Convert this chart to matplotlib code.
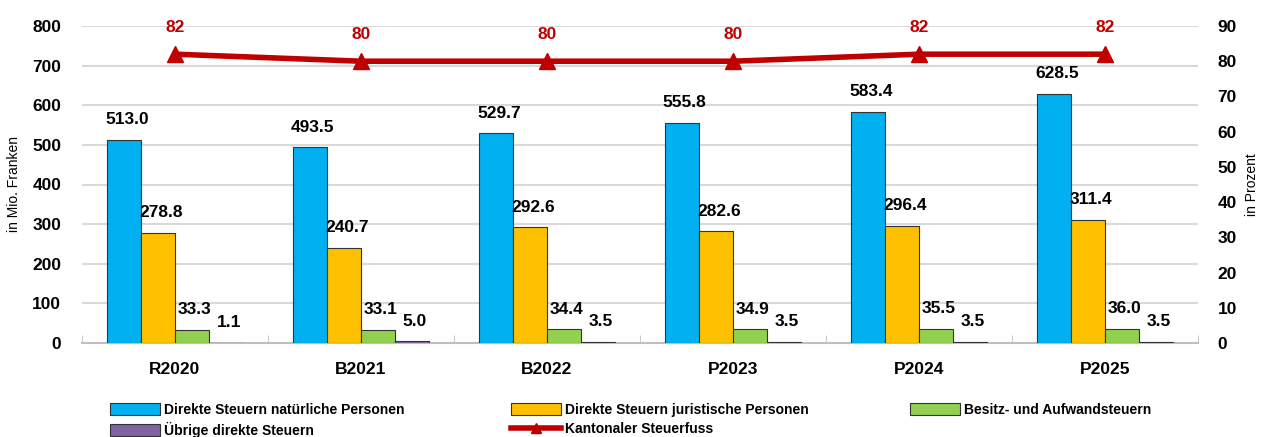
import numpy as np
import matplotlib.pyplot as plt

# data
categories = ['R2020', 'B2021', 'B2022', 'P2023', 'P2024', 'P2025']
natuerliche = [513.0, 493.5, 529.7, 555.8, 583.4, 628.5]
juristische = [278.8, 240.7, 292.6, 282.6, 296.4, 311.4]
besitz = [33.3, 33.1, 34.4, 34.9, 35.5, 36.0]
uebrige = [1.1, 5.0, 3.5, 3.5, 3.5, 3.5]
steuerfuss = [82, 80, 80, 80, 82, 82]

series_names = ['Direkte Steuern natürliche Personen',
                'Direkte Steuern juristische Personen',
                'Besitz- und Aufwandsteuern',
                'Übrige direkte Steuern']
colors = ['#00B0F0', '#FFC000', '#92D050', '#8064A2']

plt.rcParams['font.family'] = ['Liberation Sans', 'DejaVu Sans']

fig = plt.figure(figsize=(12.78, 4.37), dpi=100)
ax = fig.add_axes([82/1278, 1-343/437, 1116/1278, 317/437])
ax2 = ax.twinx()

x = np.arange(len(categories))
w = 34/186
bars = []
for i, (vals, name, c) in enumerate(zip([natuerliche, juristische, besitz, uebrige], series_names, colors)):
    b = ax.bar(x + (i-1.5)*w, vals, w, color=c, edgecolor='#333333', linewidth=0.8, label=name, zorder=3)
    bars.append(b)
    for xi, v in zip(x + (i-1.5)*w, vals):
        ax.annotate(f'{v:.1f}', (xi, v), xytext=(2, 9), textcoords='offset points',
                    ha='center', va='bottom', fontsize=12.5, fontweight='bold')

ax.set_xlim(-0.5, len(categories)-0.5)
ax.set_ylim(0, 800)
ax.set_yticks(range(0, 801, 100))
ax.yaxis.grid(True, color='#d9d9d9', linewidth=1.5, zorder=0)
ax.set_axisbelow(True)
ax.set_xticks(x)
ax.set_xticklabels(categories, fontsize=12.5, fontweight='bold')
ax.set_xticks(np.arange(len(categories)+1)-0.5, minor=True)
ax.tick_params(axis='x', which='major', length=0, pad=14)
ax.tick_params(axis='x', which='minor', length=6, color='#bfbfbf', direction='in')
ax.tick_params(axis='y', length=0, labelsize=12.5, pad=15)
for lbl in ax.get_yticklabels():
    lbl.set_fontweight('bold')
ax.set_ylabel('in Mio. Franken', fontsize=10, labelpad=8)
for s in ['top', 'right', 'left']:
    ax.spines[s].set_visible(False)
ax.spines['bottom'].set_color('#bfbfbf')
ax.spines['bottom'].set_linewidth(1.5)

line, = ax2.plot(x, steuerfuss, color='#C00000', linewidth=4, marker='^', markersize=11,
                 label='Kantonaler Steuerfuss', zorder=5)
for xi, v in zip(x, steuerfuss):
    ax2.annotate(f'{v}', (xi, v), xytext=(0, 14), textcoords='offset points',
                 ha='center', va='bottom', fontsize=12.5, fontweight='bold', color='#C00000')
ax2.set_ylim(0, 90)
ax2.set_yticks(range(0, 91, 10))
ax2.tick_params(axis='y', length=0, labelsize=12.5, pad=14)
for lbl in ax2.get_yticklabels():
    lbl.set_fontweight('bold')
ax2.set_ylabel('in Prozent', fontsize=10, labelpad=6)
for s in ax2.spines.values():
    s.set_visible(False)

# legend in three columns, placed one by one
legend_cols = [([bars[0], bars[3]], [series_names[0], series_names[3]], 110),
               ([bars[1], line], [series_names[1], 'Kantonaler Steuerfuss'], 511),
               ([bars[2]], [series_names[2]], 910)]
for hs, ls, px in legend_cols:
    fig.legend(hs, ls, loc='upper left', bbox_to_anchor=(px/1278, 1-403/437),
               frameon=False, prop={'size': 10, 'weight': 'bold'}, handlelength=3.6,
               handleheight=0.9, labelspacing=0.35, handletextpad=0.3,
               borderpad=0, borderaxespad=0, markerscale=0.7)

fig.savefig('out.png', dpi=100)
